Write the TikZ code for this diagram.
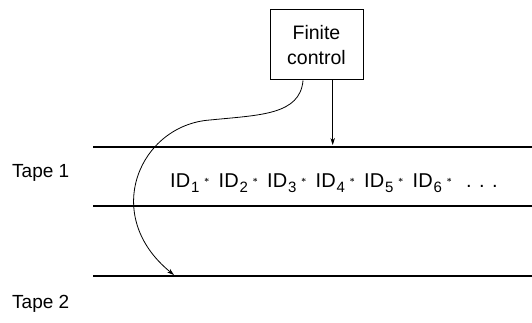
\documentclass[tikz,border=0pt]{standalone}
\usepackage{fontspec}
\setmainfont{Liberation Sans}
\usetikzlibrary{arrows.meta}
\newcommand{\idu}[1]{\makebox[48.5pt][l]{\makebox[34pt][l]{ID\hspace{0.8pt}\raisebox{-5.5pt}{\fontsize{15}{15}\selectfont #1}}\raisebox{4.5pt}{\small$\boldsymbol{\ast}$}}}
\newcommand{\tdot}{\makebox[13pt][l]{.}}
\usepackage{amsmath}
\begin{document}
\begin{tikzpicture}[x=1pt,y=1pt,
  lbl/.style={font=\fontsize{19}{22}\selectfont, inner sep=0pt},
  tape/.style={line width=1.3pt},
  conn/.style={line width=0.8pt, -{Stealth[length=7pt,width=4.5pt]}},
  box/.style={draw, line width=1pt, minimum width=93pt, minimum height=70pt, align=center, font=\fontsize{19.5}{25}\selectfont}]
\useasboundingbox (0,0) rectangle (532,-323);
\node[box] (fc) at (316.5,-45) {Finite\\control};
\coordinate (t1l) at (93,-147); \coordinate (t1r) at (532,-147);
\coordinate (t2l) at (93,-206); \coordinate (t2r) at (532,-206);
\coordinate (t3l) at (93,-276); \coordinate (t3r) at (532,-276);
\draw[tape] (t1l) -- (t1r);
\draw[tape] (t2l) -- (t2r);
\draw[tape] (t3l) -- (t3r);
\node[lbl, anchor=base west] (tp1) at (12,-178) {Tape 1};
\node[lbl, anchor=base west] (tp2) at (12,-308) {Tape 2};
\node[anchor=base west, inner sep=0pt, font=\fontsize{20}{24}\selectfont] (ids) at (170,-187)
  {\idu{1}\idu{2}\idu{3}\idu{4}\idu{5}\idu{6}\hspace{5pt}\tdot\tdot\tdot};
\coordinate (head1) at (332.7,-145);
\coordinate (head2) at (174,-275);
\draw[conn] (fc.south -| head1) -- (head1);
\draw[conn] ([xshift=-13.5pt]fc.south) .. controls (300,-115) and (260,-115) .. (210,-120)
  .. controls (140,-125) and (100,-215) .. (head2);
\end{tikzpicture}
\end{document}
